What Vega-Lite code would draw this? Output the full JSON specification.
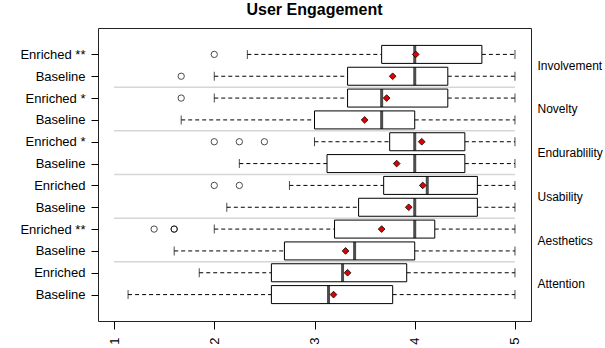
{
  "$schema": "https://vega.github.io/schema/vega-lite/v6.json",
  "width": 433,
  "height": 293,
  "autosize": {"type": "none"},
  "padding": {"left": 98, "top": 28, "right": 74, "bottom": 27},
  "background": "white",
  "config": {
    "font": "Liberation Sans",
    "view": {"stroke": "#222222", "strokeWidth": 1},
    "axis": {"grid": false, "labelFont": "Liberation Sans", "labelColor": "#000000", "tickColor": "#000000"}
  },
  "title": {
    "text": "User Engagement",
    "fontSize": 16,
    "fontWeight": "bold",
    "font": "Liberation Sans",
    "anchor": "middle",
    "frame": "group",
    "baseline": "alphabetic",
    "offset": 12,
    "dy": 15,
    "color": "#000000"
  },
  "datasets": {
    "boxes": [
      {"pos": 12, "label": "Enriched **", "group": "Involvement", "lo": 2.33, "q1": 3.67, "med": 4.0, "q3": 4.67, "hi": 5, "mean": 4.01},
      {"pos": 11, "label": "Baseline", "group": "Involvement", "lo": 2.0, "q1": 3.33, "med": 4.0, "q3": 4.33, "hi": 5, "mean": 3.78},
      {"pos": 10, "label": "Enriched *", "group": "Novelty", "lo": 2.0, "q1": 3.33, "med": 3.67, "q3": 4.33, "hi": 5, "mean": 3.72},
      {"pos": 9, "label": "Baseline", "group": "Novelty", "lo": 1.67, "q1": 3.0, "med": 3.67, "q3": 4.0, "hi": 5, "mean": 3.5},
      {"pos": 8, "label": "Enriched *", "group": "Endurablility", "lo": 3.0, "q1": 3.75, "med": 4.0, "q3": 4.5, "hi": 5, "mean": 4.07},
      {"pos": 7, "label": "Baseline", "group": "Endurablility", "lo": 2.25, "q1": 3.125, "med": 4.0, "q3": 4.5, "hi": 5, "mean": 3.82},
      {"pos": 6, "label": "Enriched", "group": "Usability", "lo": 2.75, "q1": 3.69, "med": 4.125, "q3": 4.625, "hi": 5, "mean": 4.08},
      {"pos": 5, "label": "Baseline", "group": "Usability", "lo": 2.125, "q1": 3.44, "med": 4.0, "q3": 4.625, "hi": 5, "mean": 3.94},
      {"pos": 4, "label": "Enriched **", "group": "Aesthetics", "lo": 2.0, "q1": 3.2, "med": 4.0, "q3": 4.2, "hi": 5, "mean": 3.67},
      {"pos": 3, "label": "Baseline", "group": "Aesthetics", "lo": 1.6, "q1": 2.7, "med": 3.4, "q3": 4.0, "hi": 5, "mean": 3.31},
      {"pos": 2, "label": "Enriched", "group": "Attention", "lo": 1.85, "q1": 2.57, "med": 3.28, "q3": 3.92, "hi": 5, "mean": 3.33},
      {"pos": 1, "label": "Baseline", "group": "Attention", "lo": 1.14, "q1": 2.57, "med": 3.14, "q3": 3.78, "hi": 5, "mean": 3.19}
    ],
    "outliers": [
      {"pos": 12, "value": 2.0},
      {"pos": 11, "value": 1.67},
      {"pos": 10, "value": 1.67},
      {"pos": 8, "value": 2.0},
      {"pos": 8, "value": 2.25},
      {"pos": 8, "value": 2.5},
      {"pos": 6, "value": 2.0},
      {"pos": 6, "value": 2.25},
      {"pos": 4, "value": 1.4},
      {"pos": 4, "value": 1.6},
      {"pos": 4, "value": 1.6}
    ],
    "separators": [
      {"pos": 2.5, "from": 1, "to": 5},
      {"pos": 4.5, "from": 1, "to": 5},
      {"pos": 6.5, "from": 1, "to": 5},
      {"pos": 8.5, "from": 1, "to": 5},
      {"pos": 10.5, "from": 1, "to": 5}
    ],
    "groups": [
      {"pos": 1.5, "group": "Attention"},
      {"pos": 3.5, "group": "Aesthetics"},
      {"pos": 5.5, "group": "Usability"},
      {"pos": 7.5, "group": "Endurablility"},
      {"pos": 9.5, "group": "Novelty"},
      {"pos": 11.5, "group": "Involvement"}
    ]
  },
  "resolve": {"axis": {"y": "independent"}},
  "layer": [
    {
      "data": {"name": "separators"},
      "mark": {"type": "rule", "color": "#d6d6d6", "strokeWidth": 1.5},
      "encoding": {
        "x": {"field": "from", "type": "quantitative", "scale": {"domain": [0.84, 5.16], "nice": false, "zero": false},
          "axis": {"values": [1, 2, 3, 4, 5], "format": "d", "labelAngle": -90, "tickSize": 8, "labelPadding": 8, "labelFontSize": 13, "domain": false, "title": null}},
        "x2": {"field": "to"},
        "y": {"field": "pos", "type": "quantitative", "scale": {"domain": [0.02, 12.98], "nice": false, "zero": false},
          "axis": {"orient": "left", "values": [1, 2, 3, 4, 5, 6, 7, 8, 9, 10, 11, 12], "tickSize": 7, "labelPadding": 6, "labelFontSize": 13, "domain": false, "title": null,
            "labelExpr": "['','Baseline','Enriched','Baseline','Enriched **','Baseline','Enriched','Baseline','Enriched *','Baseline','Enriched *','Baseline','Enriched **'][datum.value]"}}
      }
    },
    {
      "data": {"name": "groups"},
      "mark": {"type": "point", "opacity": 0},
      "encoding": {
        "x": {"datum": 5, "type": "quantitative"},
        "y": {"field": "pos", "type": "quantitative",
          "axis": {"orient": "right", "values": [1.5, 3.5, 5.5, 7.5, 9.5, 11.5], "ticks": false, "labelPadding": 6, "labelFontSize": 12, "domain": false, "title": null,
            "labelExpr": "{'1.5':'Attention','3.5':'Aesthetics','5.5':'Usability','7.5':'Endurablility','9.5':'Novelty','11.5':'Involvement'}[datum.value + '']"}}
      }
    },
    {
      "data": {"name": "boxes"},
      "mark": {"type": "rule", "color": "#000000", "strokeWidth": 1, "strokeDash": [4, 3]},
      "encoding": {
        "x": {"field": "lo", "type": "quantitative"},
        "x2": {"field": "q1"},
        "y": {"field": "pos", "type": "quantitative", "axis": null}
      }
    },
    {
      "data": {"name": "boxes"},
      "mark": {"type": "rule", "color": "#000000", "strokeWidth": 1, "strokeDash": [4, 3]},
      "encoding": {
        "x": {"field": "q3", "type": "quantitative"},
        "x2": {"field": "hi"},
        "y": {"field": "pos", "type": "quantitative", "axis": null}
      }
    },
    {
      "data": {"name": "boxes"},
      "mark": {"type": "tick", "orient": "vertical", "color": "#000000", "size": 9, "thickness": 1},
      "encoding": {
        "x": {"field": "lo", "type": "quantitative"},
        "y": {"field": "pos", "type": "quantitative", "axis": null}
      }
    },
    {
      "data": {"name": "boxes"},
      "mark": {"type": "tick", "orient": "vertical", "color": "#000000", "size": 9, "thickness": 1},
      "encoding": {
        "x": {"field": "hi", "type": "quantitative"},
        "y": {"field": "pos", "type": "quantitative", "axis": null}
      }
    },
    {
      "data": {"name": "boxes"},
      "mark": {"type": "bar", "orient": "horizontal", "size": 18, "fill": "white", "stroke": "#000000", "strokeWidth": 1},
      "encoding": {
        "x": {"field": "q1", "type": "quantitative"},
        "x2": {"field": "q3"},
        "y": {"field": "pos", "type": "quantitative", "axis": null}
      }
    },
    {
      "data": {"name": "boxes"},
      "mark": {"type": "tick", "orient": "vertical", "color": "#000000", "size": 18, "thickness": 3},
      "encoding": {
        "x": {"field": "med", "type": "quantitative"},
        "y": {"field": "pos", "type": "quantitative", "axis": null}
      }
    },
    {
      "data": {"name": "outliers"},
      "mark": {"type": "point", "shape": "circle", "filled": false, "size": 40, "stroke": "#000000", "strokeWidth": 1},
      "encoding": {
        "x": {"field": "value", "type": "quantitative"},
        "y": {"field": "pos", "type": "quantitative", "axis": null}
      }
    },
    {
      "data": {"name": "boxes"},
      "mark": {"type": "point", "shape": "diamond", "filled": true, "size": 45, "fill": "#e00000", "stroke": "#000000", "strokeWidth": 0.8, "opacity": 1},
      "encoding": {
        "x": {"field": "mean", "type": "quantitative"},
        "y": {"field": "pos", "type": "quantitative", "axis": null}
      }
    }
  ]
}
